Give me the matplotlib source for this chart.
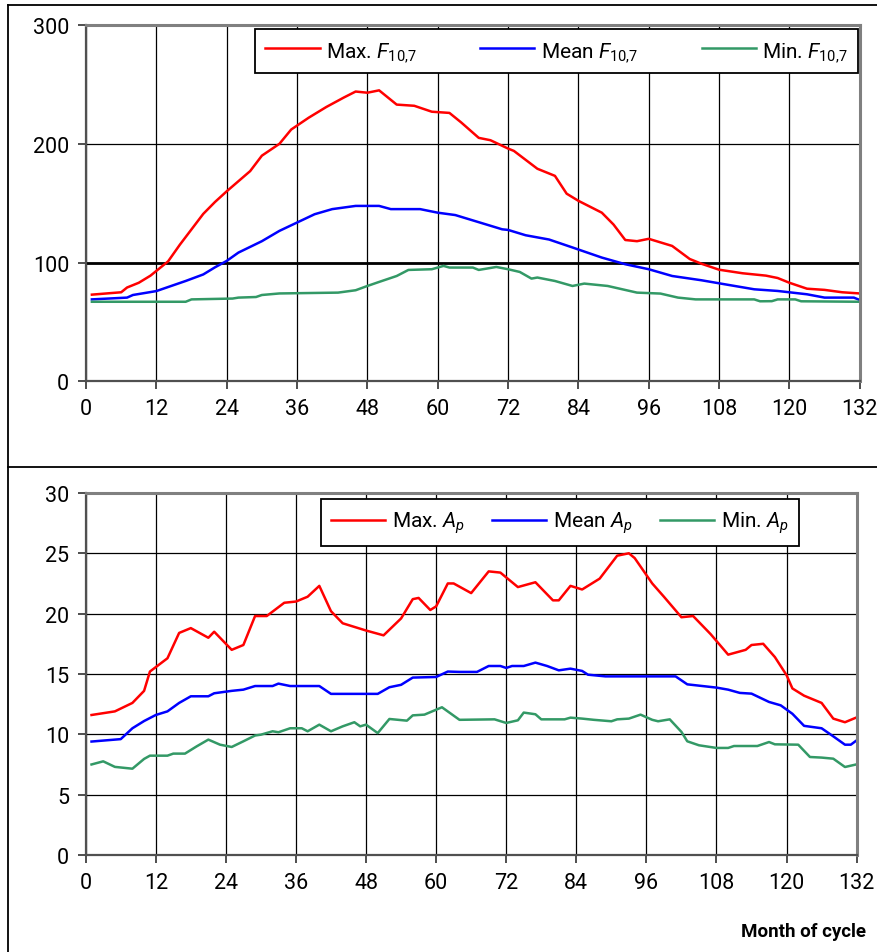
import matplotlib
matplotlib.use('Agg')
import matplotlib.pyplot as plt
from matplotlib.lines import Line2D

plt.rcParams['font.family'] = ['Roboto', 'DejaVu Sans']
plt.rcParams['mathtext.fontset'] = 'custom'
plt.rcParams['mathtext.rm'] = 'Roboto'
plt.rcParams['mathtext.it'] = 'Roboto:italic'

# solar flux F10.7 over the cycle
max_f_month = [1, 6, 7, 9, 11, 14, 16, 18, 20, 22, 24, 28, 30, 33, 35, 38, 41, 44, 46, 48,
               50, 53, 56, 59, 62, 64, 67, 69, 72, 73, 77, 80, 82, 84, 88, 90, 92, 94, 96,
               100, 103, 105, 108, 112, 116, 118, 120, 123, 126, 129, 132]
max_f = [73, 75, 79, 83, 89, 101, 115, 128, 141, 151, 160, 177, 190, 200, 212, 222, 231, 239, 244, 243,
         245, 233, 232, 227, 226, 218, 205, 203, 196, 194, 179, 173, 158, 152, 142, 132, 119, 118, 120,
         114, 103, 99, 94, 91, 89, 87, 83, 78, 77, 75, 74]

mean_f_month = [1, 7, 8, 12, 17, 20, 22, 24, 26, 30, 33, 36, 39, 42, 46, 50, 52, 57, 60, 63,
                67, 71, 72, 75, 79, 83, 88, 92, 96, 100, 105, 109, 114, 118, 123, 126, 131, 132]
mean_f = [69, 70.5, 72.7, 76, 84.5, 90, 96, 101.4, 108.4, 118, 126.7, 133.7, 140.7, 145, 147.7, 147.7, 145, 145, 142, 140,
          134, 128, 127.5, 123, 119.4, 112.7, 104.2, 98.6, 94.4, 88.7, 85.1, 81.7, 77.5, 76.1, 73.3, 70.5, 70.5, 68.5]

min_f_month = [1, 17, 18, 25, 26, 29, 30, 33, 43, 46, 48, 50, 53, 55, 59, 61, 62, 66, 67, 70,
               72, 74, 76, 77, 80, 83, 85, 89, 94, 98, 101, 104, 114, 115, 117, 118, 121, 122, 132]
min_f = [67, 67, 69, 69.7, 70.5, 71, 72.7, 74, 74.7, 76.7, 80.3, 83.7, 88.7, 93.8, 94.4, 97.2, 95.8, 95.8, 93.8, 96.3,
         94.4, 92.1, 86.5, 87.4, 84.5, 80.3, 82.3, 80.3, 74.7, 73.9, 70.5, 69, 69, 67.4, 67.5, 69, 69, 67.4, 67]

# geomagnetic index Ap over the cycle
max_ap_month = [1, 5, 8, 10, 11, 14, 16, 18, 21, 22, 25, 27, 29, 31, 34, 36, 38, 40, 42, 44,
                48, 51, 54, 56, 57, 59, 60, 62, 63, 66, 69, 71, 74, 77, 80, 81, 83, 85, 88, 91,
                93, 94, 97, 99, 102, 104, 107, 110, 113, 114, 116, 118, 120, 121, 123, 126, 128, 130, 132]
max_ap = [11.6, 11.9, 12.6, 13.6, 15.2, 16.3, 18.4, 18.8, 18.0, 18.5, 17.0, 17.4, 19.8, 19.8, 20.9, 21.0, 21.4, 22.3, 20.2, 19.2,
          18.6, 18.2, 19.6, 21.2, 21.3, 20.3, 20.6, 22.5, 22.5, 21.7, 23.5, 23.4, 22.2, 22.6, 21.1, 21.1, 22.3, 22.0, 22.9, 24.8,
          25.0, 24.6, 22.5, 21.4, 19.7, 19.8, 18.3, 16.6, 17.0, 17.4, 17.5, 16.4, 14.9, 13.8, 13.2, 12.6, 11.3, 11.0, 11.4]

mean_ap_month = [1, 6, 8, 10, 12, 14, 16, 18, 21, 22, 25, 27, 29, 32, 33, 35, 40, 42, 50, 52,
                 54, 56, 60, 62, 64, 67, 69, 71, 72, 73, 75, 77, 79, 81, 83, 85, 86, 89, 101, 103,
                 108, 110, 112, 114, 117, 119, 121, 123, 126, 128, 130, 131, 132]
mean_ap = [9.4, 9.6, 10.5, 11.1, 11.6, 11.9, 12.6, 13.15, 13.15, 13.4, 13.6, 13.7, 14.0, 14.0, 14.2, 14.0, 14.0, 13.35, 13.35, 13.9,
           14.1, 14.7, 14.75, 15.2, 15.17, 15.17, 15.66, 15.66, 15.5, 15.66, 15.66, 15.94, 15.66, 15.3, 15.44, 15.25, 14.94, 14.8, 14.8, 14.14,
           13.87, 13.7, 13.43, 13.37, 12.68, 12.4, 11.7, 10.7, 10.5, 9.83, 9.14, 9.14, 9.5]

min_ap_month = [1, 3, 5, 8, 10, 11, 14, 15, 17, 19, 21, 23, 25, 27, 29, 30, 32, 33, 35, 37,
                38, 40, 42, 44, 46, 47, 48, 50, 52, 55, 56, 58, 61, 64, 70, 72, 74, 75, 77, 78,
                82, 83, 85, 87, 90, 91, 93, 95, 97, 98, 100, 102, 103, 105, 108, 110, 111, 115, 117, 118,
                122, 124, 126, 128, 130, 132]
min_ap = [7.5, 7.76, 7.3, 7.15, 7.96, 8.23, 8.23, 8.4, 8.4, 9.0, 9.56, 9.14, 8.95, 9.42, 9.9, 9.97, 10.25, 10.17, 10.5, 10.5,
          10.25, 10.8, 10.25, 10.66, 11.0, 10.66, 10.8, 10.1, 11.27, 11.13, 11.57, 11.63, 12.24, 11.2, 11.24, 10.94, 11.16, 11.8, 11.66, 11.24,
          11.24, 11.38, 11.3, 11.2, 11.08, 11.24, 11.3, 11.63, 11.2, 11.08, 11.24, 10.2, 9.42, 9.09, 8.87, 8.87, 9.03, 9.03, 9.36, 9.17,
          9.14, 8.12, 8.07, 7.98, 7.29, 7.51]

month_ticks = list(range(0, 133, 12))

RED = '#ff0000'
BLUE = '#0000ff'
GREEN = '#339966'

fig = plt.figure(figsize=(8.77, 9.53), dpi=100)
ax1 = fig.add_axes([0.0981, 0.5988, 0.8822, 0.3739])
ax2 = fig.add_axes([0.0977, 0.1018, 0.8791, 0.3799])


def style_axes(ax, ymax, ystep):
    ax.set_xlim(0, 132)
    ax.set_ylim(0, ymax)
    ax.set_xticks(month_ticks)
    ax.set_yticks(range(0, ymax + 1, ystep))
    ax.grid(True, color='black', lw=0.9)
    ax.tick_params(direction='out', length=6, width=1.3, color='#404040',
                   labelsize=15.5, pad=6)
    for side in ['left', 'bottom']:
        ax.spines[side].set_color('#505050')
        ax.spines[side].set_linewidth(1.6)
    for side in ['top', 'right']:
        ax.spines[side].set_color('#808080')
        ax.spines[side].set_linewidth(2.2)


def add_legend(ax, box):
    leg = ax.legend(loc='lower left', bbox_to_anchor=box, mode='expand', ncol=3,
                    borderaxespad=0, fancybox=False, edgecolor='black', framealpha=1,
                    handlelength=2.6, handletextpad=0.3, borderpad=0.5, fontsize=15)
    leg.get_frame().set_linewidth(1.3)
    return leg


style_axes(ax1, 300, 100)
ax1.axhline(100, color='black', lw=2.0, zorder=1.6)
ax1.plot(max_f_month, max_f, color=RED, lw=1.8, label=r'Max. $F_{\mathrm{10{,}7}}$')
ax1.plot(mean_f_month, mean_f, color=BLUE, lw=1.8, label=r'Mean $F_{\mathrm{10{,}7}}$')
ax1.plot(min_f_month, min_f, color=GREEN, lw=1.8, label=r'Min. $F_{\mathrm{10{,}7}}$')
add_legend(ax1, (0.2184, 0.865, 0.7794, 0.117))

style_axes(ax2, 30, 5)
ax2.plot(max_ap_month, max_ap, color=RED, lw=1.8, label=r'Max. $A_p$')
ax2.plot(mean_ap_month, mean_ap, color=BLUE, lw=1.8, label=r'Mean $A_p$')
ax2.plot(min_ap_month, min_ap, color=GREEN, lw=1.8, label=r'Min. $A_p$')
add_legend(ax2, (0.3048, 0.854, 0.6204, 0.122))

fig.text(866 / 877, 1 - 931.7 / 953, 'Month of cycle', ha='right', va='center',
         fontsize=13.5, fontweight='bold')

# frame lines around the two panels
fig.add_artist(Line2D([8 / 877, 1], [1 - 6 / 953, 1 - 6 / 953], color='black', lw=1.3))
fig.add_artist(Line2D([8 / 877, 8 / 877], [0, 1 - 6 / 953], color='black', lw=1.3))
fig.add_artist(Line2D([8 / 877, 1], [1 - 468 / 953, 1 - 468 / 953], color='black', lw=1.3))

fig.savefig('out.png', dpi=100)
